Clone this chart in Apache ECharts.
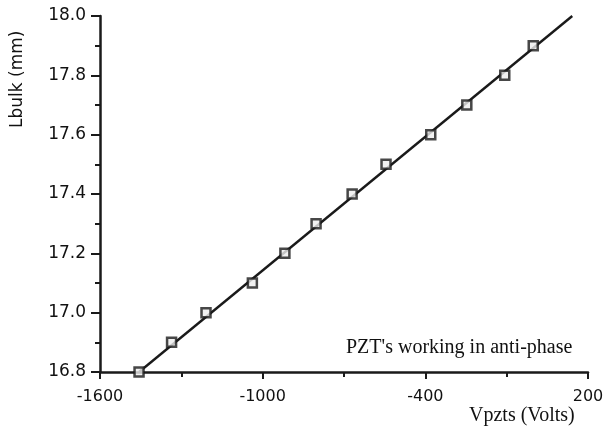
<!DOCTYPE html>
<html>
<head>
<meta charset="utf-8">
<script src="https://cdn.jsdelivr.net/npm/echarts@6/dist/echarts.min.js"></script>
<style>
  html, body { margin: 0; padding: 0; background: #fff; }
  #chart { width: 609px; height: 437px; }
</style>
</head>
<body>
<div id="chart"></div>
<script>
// measured points (Vpzts in volts, Lbulk in mm)
var voltage = [-1456, -1336, -1209, -1038, -918, -803, -670, -545, -380, -247, -107, -2];
var lbulk = [16.8, 16.9, 17.0, 17.1, 17.2, 17.3, 17.4, 17.5, 17.6, 17.7, 17.8, 17.9];
// straight fit line end points
var fitX = [-1456, 142];
var fitY = [16.8, 18.0];

var ink = '#1a1a1a';
var chart = echarts.init(document.getElementById('chart'));

chart.setOption({
  animation: false,
  grid: { left: 100, right: 21, top: 16, bottom: 65 },
  xAxis: {
    type: 'value',
    min: -1600,
    max: 200,
    interval: 600,
    axisLine: { onZero: false, lineStyle: { color: ink, width: 2.5 } },
    axisTick: { length: 7, lineStyle: { color: ink, width: 2 } },
    minorTick: { show: true, splitNumber: 2, length: 5, lineStyle: { color: ink, width: 2 } },
    splitLine: { show: false },
    axisLabel: {
      color: '#111', fontSize: 16, fontFamily: 'DejaVu Sans', margin: 17,
      formatter: function (v) { return String(v); }
    }
  },
  yAxis: {
    type: 'value',
    min: 16.8,
    max: 18.0,
    interval: 0.2,
    axisLine: { show: true, onZero: false, lineStyle: { color: ink, width: 2.5 } },
    axisTick: { show: true, length: 9, lineStyle: { color: ink, width: 2 } },
    minorTick: { show: true, splitNumber: 2, length: 5, lineStyle: { color: ink, width: 2 } },
    splitLine: { show: false },
    axisLabel: {
      color: '#111', fontSize: 17, fontFamily: 'DejaVu Sans', margin: 14,
      formatter: function (v) { return v.toFixed(1); }
    }
  },
  graphic: [
    {
      type: 'text', left: 346, top: 338,
      style: { text: "PZT's working in anti-phase", fill: '#111', font: '20px "Liberation Serif"' }
    },
    {
      type: 'text', left: 469, top: 406,
      style: { text: 'Vpzts (Volts)', fill: '#111', font: '20px "Liberation Serif"' }
    },
    {
      type: 'text', x: 9, y: 128, rotation: Math.PI / 2,
      style: { text: 'Lbulk (mm)', fill: '#111', font: '17px "DejaVu Sans"' }
    }
  ],
  series: [
    {
      type: 'line',
      data: fitX.map(function (x, i) { return [x, fitY[i]]; }),
      showSymbol: false,
      lineStyle: { color: ink, width: 2.4 },
      clip: false,
      z: 2
    },
    {
      type: 'scatter',
      data: voltage.map(function (x, i) { return [x, lbulk[i]]; }),
      symbol: 'rect',
      symbolSize: 9,
      itemStyle: { color: '#eee', borderColor: ink, borderWidth: 2.5 },
      clip: false,
      z: 3
    }
  ]
});
</script>
</body>
</html>
